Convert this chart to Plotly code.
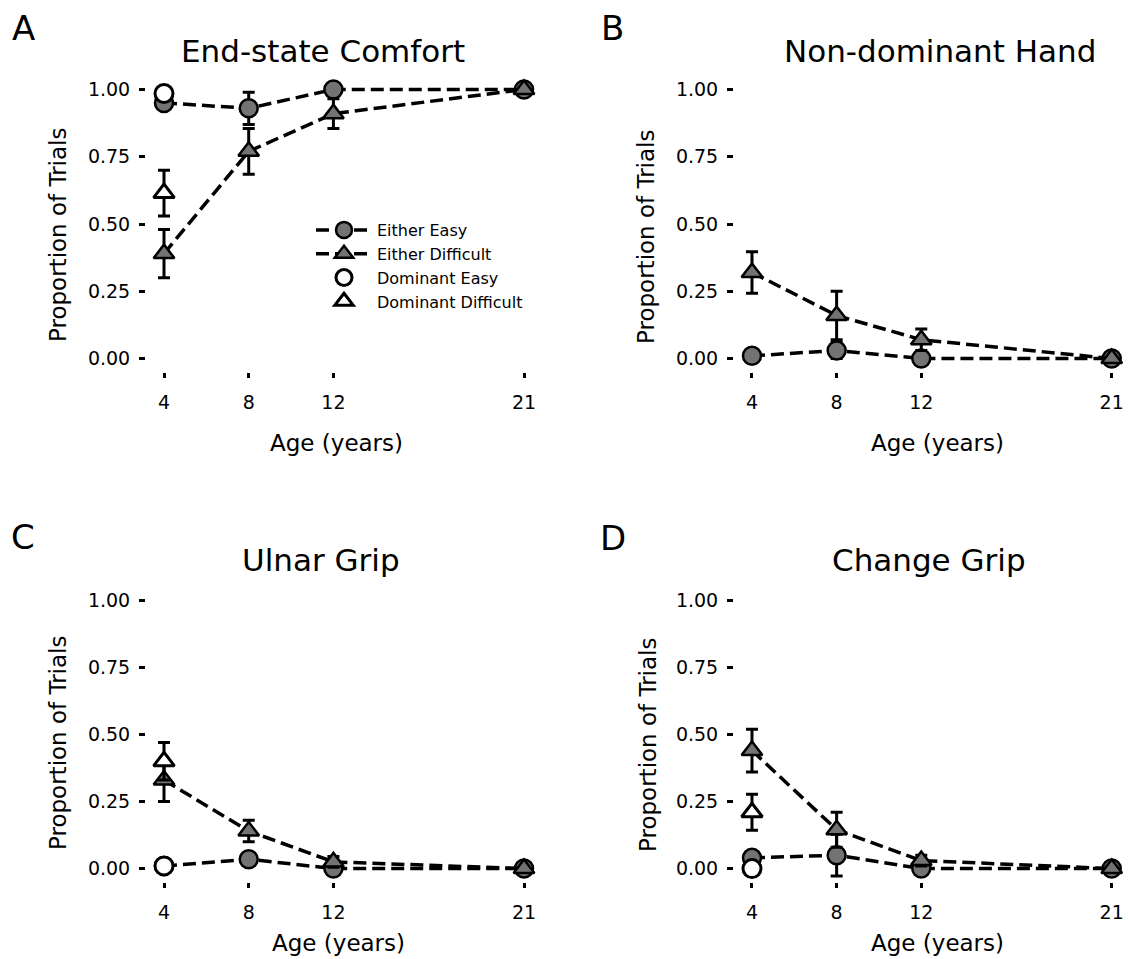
import plotly.graph_objects as go

ages = [4, 8, 12, 21]
dom_age = [4]
y_ticks = [0, 0.25, 0.5, 0.75, 1.0]
y_ticktext = ["0.00", "0.25", "0.50", "0.75", "1.00"]
panel_titles = ["End-state Comfort", "Non-dominant Hand", "Ulnar Grip", "Change Grip"]
panel_letters = ["A", "B", "C", "D"]

# Panel A: End-state Comfort
a_either_easy = [0.95, 0.93, 1.00, 1.00]
a_either_easy_err = [0.02, 0.06, 0.0, 0.0]
a_either_diff = [0.39, 0.77, 0.91, 1.00]
a_either_diff_err = [0.09, 0.085, 0.055, 0.0]
a_dom_easy = [0.985]
a_dom_easy_err = [0.0]
a_dom_diff = [0.615]
a_dom_diff_err = [0.085]

# Panel B: Non-dominant Hand
b_either_easy = [0.01, 0.03, 0.0, 0.0]
b_either_easy_err = [0.01, 0.03, 0.0, 0.0]
b_either_diff = [0.32, 0.16, 0.07, 0.0]
b_either_diff_err = [0.077, 0.09, 0.04, 0.0]

# Panel C: Ulnar Grip
c_either_easy = [0.01, 0.035, 0.0, 0.0]
c_either_easy_err = [0.01, 0.02, 0.0, 0.0]
c_either_diff = [0.33, 0.14, 0.025, 0.0]
c_either_diff_err = [0.08, 0.04, 0.02, 0.0]
c_dom_easy = [0.01]
c_dom_easy_err = [0.01]
c_dom_diff = [0.40]
c_dom_diff_err = [0.07]

# Panel D: Change Grip
d_either_easy = [0.04, 0.05, 0.0, 0.0]
d_either_easy_err = [0.02, 0.078, 0.0, 0.0]
d_either_diff = [0.44, 0.145, 0.03, 0.0]
d_either_diff_err = [0.08, 0.065, 0.02, 0.0]
d_dom_easy = [0.0]
d_dom_easy_err = [0.0]
d_dom_diff = [0.21]
d_dom_diff_err = [0.067]

W, H = 1128, 959
FONT = "DejaVu Sans, Arial, sans-serif"
GRAY = "#737373"
DASH = "13px,6px"

def px_x(p):
    return p / W

def px_y(p):
    return 1 - p / H

# panel pixel boxes (left, right, top, bottom) and x ranges
boxes = [(146, 542, 76, 372), (734, 1128, 76, 372),
         (146, 542, 587, 882), (734, 1128, 587, 882)]
xranges = [[3.15, 21.85], [3.15, 21.77], [3.15, 21.85], [3.15, 21.77]]

fig = go.Figure()

def err(arr):
    return dict(type="data", array=arr, visible=True, color="black", thickness=3, width=6)

panels = [
    (a_either_easy, a_either_easy_err, a_either_diff, a_either_diff_err, a_dom_easy, a_dom_easy_err, a_dom_diff, a_dom_diff_err),
    (b_either_easy, b_either_easy_err, b_either_diff, b_either_diff_err, None, None, None, None),
    (c_either_easy, c_either_easy_err, c_either_diff, c_either_diff_err, c_dom_easy, c_dom_easy_err, c_dom_diff, c_dom_diff_err),
    (d_either_easy, d_either_easy_err, d_either_diff, d_either_diff_err, d_dom_easy, d_dom_easy_err, d_dom_diff, d_dom_diff_err),
]

for i, (ee, eee, ed, ede, de, dee, dd, dde) in enumerate(panels):
    xa = "x" if i == 0 else f"x{i+1}"
    ya = "y" if i == 0 else f"y{i+1}"
    show = i == 0
    fig.add_trace(go.Scatter(
        x=ages, y=ee, error_y=err(eee), mode="lines+markers", name="Either Easy",
        legendgroup="ee", showlegend=show, xaxis=xa, yaxis=ya,
        line=dict(color="black", width=3.5, dash=DASH),
        marker=dict(symbol="circle", size=18, color=GRAY, line=dict(color="black", width=2.5))))
    fig.add_trace(go.Scatter(
        x=ages, y=ed, error_y=err(ede), mode="lines+markers", name="Either Difficult",
        legendgroup="ed", showlegend=show, xaxis=xa, yaxis=ya,
        line=dict(color="black", width=3.5, dash=DASH),
        marker=dict(symbol="triangle-up", size=18, color=GRAY, line=dict(color="black", width=2.5))))
    if de is not None:
        fig.add_trace(go.Scatter(
            x=dom_age, y=de, error_y=err(dee), mode="markers", name="Dominant Easy",
            legendgroup="de", showlegend=show, xaxis=xa, yaxis=ya,
            marker=dict(symbol="circle", size=18, color="white", line=dict(color="black", width=3))))
        fig.add_trace(go.Scatter(
            x=dom_age, y=dd, error_y=err(dde), mode="markers", name="Dominant Difficult",
            legendgroup="dd", showlegend=show, xaxis=xa, yaxis=ya,
            marker=dict(symbol="triangle-up", size=18, color="white", line=dict(color="black", width=3))))

layout = dict(
    width=W, height=H, margin=dict(l=0, r=0, t=0, b=0),
    paper_bgcolor="white", plot_bgcolor="white",
    font=dict(family=FONT, color="black"),
    legend=dict(x=px_x(311), y=px_y(213), xanchor="left", yanchor="top",
                font=dict(size=16, color="black", family=FONT), bgcolor="rgba(0,0,0,0)",
                itemwidth=56, tracegroupgap=0),
)

for i, (l, r, t, b) in enumerate(boxes):
    xk = "xaxis" if i == 0 else f"xaxis{i+1}"
    yk = "yaxis" if i == 0 else f"yaxis{i+1}"
    xa = "x" if i == 0 else f"x{i+1}"
    ya = "y" if i == 0 else f"y{i+1}"
    layout[xk] = dict(domain=[px_x(l), px_x(r)], anchor=ya, range=xranges[i],
                      tickvals=ages, ticks="outside", ticklen=5, tickwidth=2.5, tickcolor="black",
                      showline=False, showgrid=False, zeroline=False, ticklabelstandoff=8,
                      tickfont=dict(size=19, color="black", family=FONT))
    layout[yk] = dict(domain=[px_y(b), px_y(t)], anchor=xa, range=[-0.05, 1.05],
                      tickvals=y_ticks, ticktext=y_ticktext, ticks="outside", ticklen=6,
                      tickwidth=2.5, tickcolor="black", ticklabelstandoff=5,
                      showline=False, showgrid=False, zeroline=False,
                      tickfont=dict(size=19, color="black", family=FONT))

fig.update_layout(**layout)

title_pos = [(323, 51), (940, 51), (321, 560), (929, 560)]
letter_pos = [(23, 28), (612, 28), (23, 537), (613, 538)]
ytitle_pos = [(58, 235), (646, 237), (58, 743), (648, 745)]
xtitle_pos = [(337, 443), (937, 443), (338, 943), (937, 943)]

for i in range(4):
    tx, ty = title_pos[i]
    fig.add_annotation(text=panel_titles[i], x=px_x(tx), y=px_y(ty), xref="paper", yref="paper",
                       showarrow=False, xanchor="center", yanchor="middle",
                       font=dict(size=31, color="black", family=FONT))
    lx, ly = letter_pos[i]
    fig.add_annotation(text=panel_letters[i], x=px_x(lx), y=px_y(ly), xref="paper", yref="paper",
                       showarrow=False, xanchor="center", yanchor="middle",
                       font=dict(size=34, color="black", family=FONT))
    yx, yy = ytitle_pos[i]
    fig.add_annotation(text="Proportion of Trials", x=px_x(yx), y=px_y(yy), xref="paper", yref="paper",
                       showarrow=False, xanchor="center", yanchor="middle", textangle=-90,
                       font=dict(size=23, color="black", family=FONT))
    ax_, ay_ = xtitle_pos[i]
    fig.add_annotation(text="Age (years)", x=px_x(ax_), y=px_y(ay_), xref="paper", yref="paper",
                       showarrow=False, xanchor="center", yanchor="middle",
                       font=dict(size=23, color="black", family=FONT))

fig.write_html("out.html")
